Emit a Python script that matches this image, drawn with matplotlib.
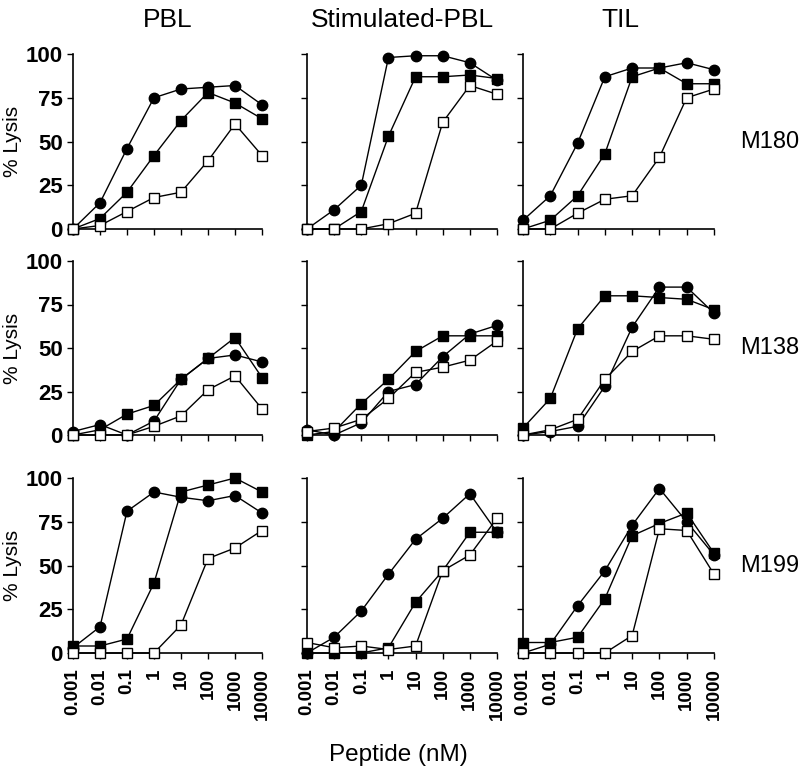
import numpy as np
import matplotlib
matplotlib.use('Agg')
import matplotlib.pyplot as plt
from matplotlib import font_manager

# Helvetica-like condensed tick labels if a narrow face is available
font_names = {f.name for f in font_manager.fontManager.ttflist}
has_narrow = 'Liberation Sans Narrow' in font_names
tick_family = ['Liberation Sans Narrow', 'Liberation Sans'] if has_narrow else ['Liberation Sans']
ytick_size = 18 if has_narrow else 16
xtick_size = 16 if has_narrow else 13.5

plt.rcParams['font.family'] = ['Liberation Sans', 'DejaVu Sans']

# peptide concentrations (nM)
conc_labels = ['0.001', '0.01', '0.1', '1', '10', '100', '1000', '10000']
log_conc = np.log10([0.001, 0.01, 0.1, 1, 10, 100, 1000, 10000])

cell_types = ['PBL', 'Stimulated-PBL', 'TIL']
peptides = ['M180', 'M138', 'M199']

# % lysis, rows = peptide, cols = cell type
circles = [
    [[0, 15, 46, 75, 80, 81, 82, 71],
     [0, 11, 25, 98, 99, 99, 95, 85],
     [5, 19, 49, 87, 92, 92, 95, 91]],
    [[2, 6, 0, 8, 32, 44, 46, 42],
     [3, 0, 7, 25, 29, 45, 58, 63],
     [0, 2, 5, 28, 62, 85, 85, 70]],
    [[3, 15, 81, 92, 89, 87, 90, 80],
     [0, 9, 24, 45, 65, 77, 91, 69],
     [0, 5, 27, 47, 73, 94, 75, 56]],
]
filled_sq = [
    [[0, 6, 21, 42, 62, 78, 72, 63],
     [0, 0, 10, 53, 87, 87, 88, 86],
     [0, 5, 19, 43, 87, 92, 83, 83]],
    [[0, 3, 12, 17, 32, 44, 56, 33],
     [0, 2, 18, 32, 48, 57, 57, 57],
     [4, 21, 61, 80, 80, 79, 78, 72]],
    [[4, 4, 8, 40, 92, 96, 100, 92],
     [0, 0, 0, 3, 29, 47, 69, 69],
     [6, 6, 9, 31, 67, 74, 80, 57]],
]
open_sq = [
    [[0, 2, 10, 18, 21, 39, 60, 42],
     [0, 0, 0, 3, 9, 61, 82, 77],
     [0, 0, 9, 17, 19, 41, 75, 80]],
    [[0, 0, 0, 5, 11, 26, 34, 15],
     [2, 4, 9, 21, 36, 39, 43, 54],
     [0, 3, 9, 32, 48, 57, 57, 55]],
    [[0, 0, 0, 0, 16, 54, 60, 70],
     [6, 3, 4, 2, 4, 47, 56, 77],
     [0, 0, 0, 0, 10, 71, 70, 45]],
]

W, H = 799, 771
fig = plt.figure(figsize=(W / 100, H / 100), dpi=100)

col_x = [(73, 262), (307, 497), (523, 714)]
row_y = [(54, 229), (261, 435), (478, 653)]


def px_rect(x0, x1, ytop, ybot):
    return [x0 / W, 1 - ybot / H, (x1 - x0) / W, (ybot - ytop) / H]


for r in range(3):
    for c in range(3):
        ax = fig.add_axes(px_rect(col_x[c][0], col_x[c][1], row_y[r][0], row_y[r][1]))
        ax.plot(log_conc, filled_sq[r][c], '-s', color='black', mfc='black', mec='black',
                ms=7, lw=1, clip_on=False, zorder=3)
        ax.plot(log_conc, circles[r][c], '-o', color='black', mfc='black', mec='black',
                ms=7.5, lw=1, clip_on=False, zorder=4)
        ax.plot(log_conc, open_sq[r][c], '-s', color='black', mfc='white', mec='black',
                ms=7, mew=1, lw=1, clip_on=False, zorder=5)
        ax.set_xlim(-3, 4)
        ax.set_ylim(0, 100)
        ax.spines['top'].set_visible(False)
        ax.spines['right'].set_visible(False)
        ax.spines['left'].set_linewidth(1.2)
        ax.spines['bottom'].set_linewidth(1.2)
        ax.set_xticks(log_conc)
        ax.set_yticks([0, 25, 50, 75, 100])
        ax.tick_params(direction='out', length=4, width=1)
        ax.tick_params(axis='x', pad=7)
        if r == 2:
            ax.set_xticklabels(conc_labels, rotation=90, fontsize=xtick_size,
                               fontweight='bold', family=tick_family)
        else:
            ax.set_xticklabels([])
        if c == 0:
            ax.set_yticklabels(['0', '25', '50', '75', '100'], fontsize=ytick_size,
                               fontweight='bold', family=tick_family)
            ax.set_ylabel('% Lysis', fontsize=15)
            ax.yaxis.set_label_coords(-0.27, 0.5)
        else:
            ax.set_yticklabels([])
        if c == 2:
            ax.text(1.135, 0.5, peptides[r], transform=ax.transAxes, fontsize=17,
                    va='center', ha='left')

col_centers = [168, 402, 620]
for c in range(3):
    fig.text(col_centers[c] / W, 1 - 20 / H, cell_types[c], ha='center', va='center',
             fontsize=19)

fig.text(398 / W, 1 - 755 / H, 'Peptide (nM)', ha='center', va='center', fontsize=17.5)

fig.savefig('out.png', dpi=100)
